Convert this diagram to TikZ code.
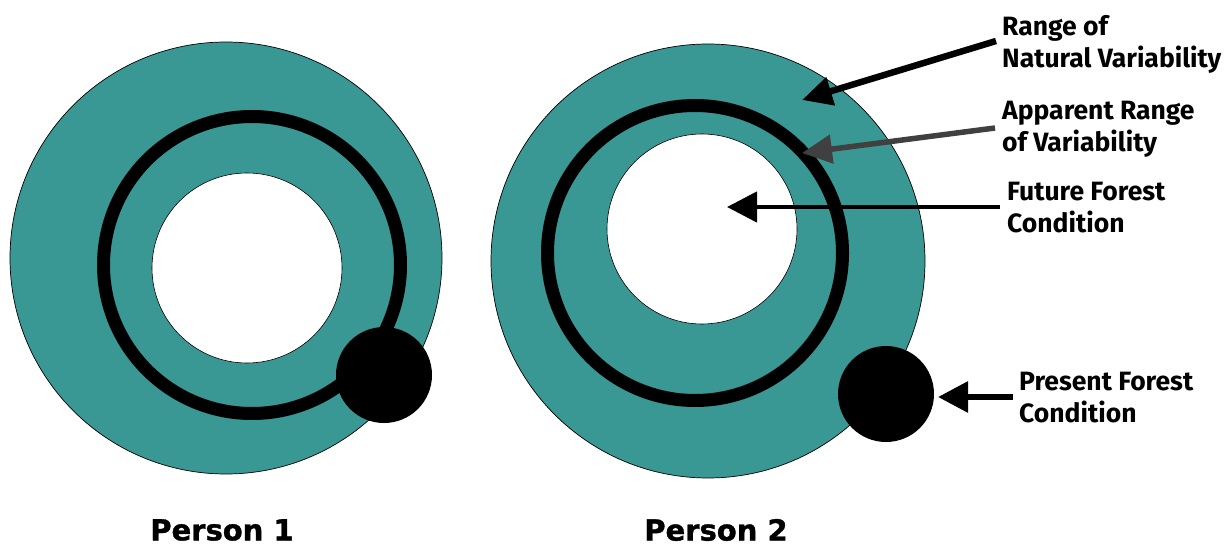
\documentclass[tikz,border=0pt]{standalone}
\usepackage{fontspec}
\setmainfont{Fira Sans}
\newfontfamily\heavyfont{DejaVu Sans}[BoldFeatures={FakeBold=1.2}]
\usetikzlibrary{arrows.meta}
\definecolor{teal1}{RGB}{57,151,148}
\definecolor{arrgray}{RGB}{64,64,64}
\tikzset{
  outerdisk/.style={circle, draw=black, line width=0.7pt, fill=teal1, inner sep=0pt, minimum size=#1},
  innerdisk/.style={circle, draw=black, line width=0.6pt, fill=white, inner sep=0pt, minimum size=#1},
  ringline/.style={circle, draw=black, line width=13pt, inner sep=0pt, minimum size=#1},
  dotdisk/.style={circle, fill=black, inner sep=0pt, minimum size=96pt},
  lab/.style={font=\bfseries\fontsize{26.5pt}{32pt}\selectfont, align=left, anchor=west, inner sep=0pt},
  personlab/.style={font=\heavyfont\bfseries\fontsize{29pt}{34pt}\selectfont, inner sep=0pt},
  bigarrow/.style={-{Triangle[length=30pt,width=28pt]}, line width=#1},
}
\begin{document}
\begin{tikzpicture}[x=1pt,y=-1pt]
\useasboundingbox (0,0) rectangle (1229,548);
% Person 1
\node[outerdisk=432pt] (o1) at (226,258) {};
\node[innerdisk=190pt] (i1) at (247,268) {};
\node[ringline=297pt] (r1) at (252,265) {};
\node[dotdisk] (d1) at (384,375) {};
\node[personlab] (p1) at (222,530) {Person 1};
% Person 2
\node[outerdisk=434pt] (o2) at (708,261) {};
\node[innerdisk=190pt] (i2) at (702,229) {};
\node[ringline=295pt] (r2) at (695,253) {};
\node[dotdisk] (d2) at (886,394) {};
\node[personlab] (p2) at (716,530) {Person 2};
% Labels
\node[lab] (l1) at (1002,44) {Range of\\Natural Variability};
\node[lab] (l2) at (1002,129) {Apparent Range\\of Variability};
\node[lab] (l3) at (1007,208) {Future Forest\\Condition};
\node[lab] (l4) at (1019,398) {Present Forest\\Condition};
% arrow coordinates
\coordinate (s1) at (996,41);
\coordinate (t1) at (802,100);
\coordinate (s2) at (995,128);
\coordinate (t2) at (802,153);
\coordinate (s3) at (1000,207);
\coordinate (t3) at (727,207);
\coordinate (s4) at (1013,397);
\coordinate (t4) at (938,397);
\draw[bigarrow=6.5pt] (s1) -- (t1);
\draw[bigarrow=5.5pt, draw=arrgray, fill=arrgray] (s2) -- (t2);
\draw[bigarrow=4.5pt, -{Triangle[length=30pt,width=30pt]}] (s3) -- (t3);
\draw[bigarrow=6pt, -{Triangle[length=30pt,width=30pt]}] (s4) -- (t4);
\end{tikzpicture}
\end{document}
